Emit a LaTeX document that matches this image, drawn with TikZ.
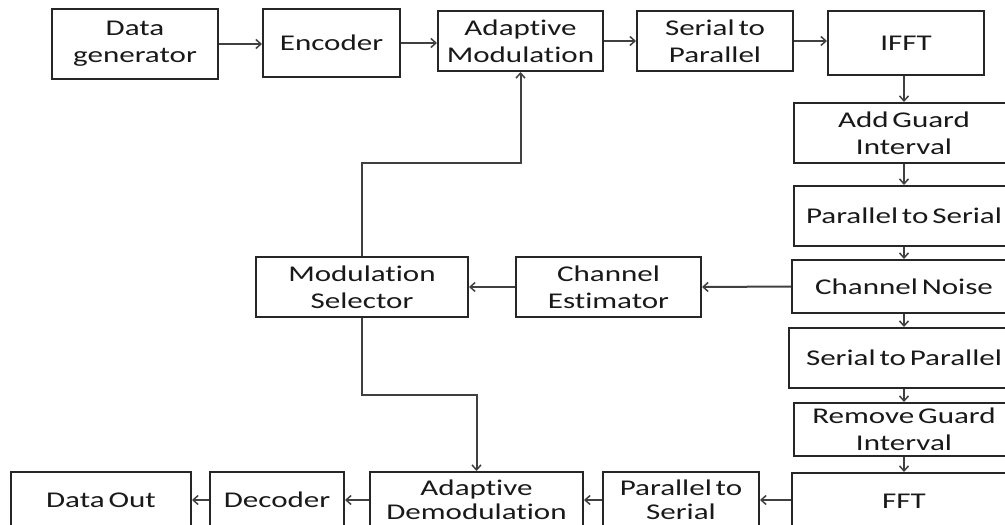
\documentclass[tikz,border=0pt]{standalone}
\usepackage{fontspec}
\setmainfont{Carlito}[FakeStretch=1.38,WordSpace=0.55,Ligatures=NoCommon]
\usetikzlibrary{arrows.meta}
\tikzset{
  blk/.style={draw=black!85, line width=2pt, fill=white, inner sep=0pt,
    align=center, text=black!90, font=\fontsize{22.5}{27}\selectfont},
  lowblk/.style={blk, minimum height=56pt, font=\fontsize{22.5}{24.5}\selectfont},
  flow/.style={draw=black!75, line width=2pt, -{Straight Barb[length=5pt,width=9pt,line width=1.5pt]}},
}
\begin{document}
\begin{tikzpicture}[x=1pt,y=-1pt]
\useasboundingbox (0,0) rectangle (1005,525);
\clip (0,0) rectangle (1005,525);
% transmitter chain, top row
\node[blk, minimum width=166pt, minimum height=70pt] (dg) at (135,44) {Data\\generator};
\node[blk, minimum width=137pt, minimum height=68pt] (enc) at (331.5,43) {Encoder};
\node[blk, minimum width=165pt, minimum height=60pt] (am) at (520.5,41) {Adaptive\\Modulation};
\node[blk, minimum width=156pt, minimum height=60pt] (sp) at (715,41) {Serial to\\Parallel};
\node[blk, minimum width=156pt, minimum height=64pt] (ifft) at (906,43) {IFFT};
% right column
\node[blk, minimum width=220pt, minimum height=60pt] (agi) at (904,133) {Add Guard\\Interval};
\node[blk, minimum width=220pt, minimum height=60pt] (ps) at (904,216) {Parallel to Serial};
\node[blk, minimum width=224pt, minimum height=53pt] (cn) at (904,286.5) {Channel Noise};
\node[blk, minimum width=230pt, minimum height=60pt] (sp2) at (904,358) {Serial to Parallel};
\node[blk, minimum width=220pt, minimum height=53pt] (rgi) at (904,429.5) {Remove Guard\\Interval};
\node[lowblk, minimum width=224pt] (fft) at (904,501) {FFT};
% feedback blocks
\node[blk, minimum width=185pt, minimum height=60pt] (ce) at (608.5,287) {Channel\\Estimator};
\node[blk, minimum width=212pt, minimum height=60pt] (ms) at (362,287) {Modulation\\Selector};
% receiver chain, bottom row
\node[lowblk, minimum width=156pt] (ps2) at (681,500) {Parallel to\\Serial};
\node[lowblk, minimum width=213pt] (ad) at (476.5,500) {Adaptive\\Demodulation};
\node[lowblk, minimum width=134pt] (dec) at (277,500) {Decoder};
\node[lowblk, minimum width=180pt] (do) at (101,500) {Data Out};
% top row connectors
\draw[flow] (dg.east) -- (enc.west |- dg.east);
\draw[flow] (enc.east) -- (am.west |- enc.east);
\draw[flow] (am.east) -- (sp.west |- am.east);
\draw[flow] (sp.east) -- (ifft.west |- sp.east);
% right column connectors
\draw[flow] (agi.north |- ifft.south) -- (agi.north);
\draw[flow] (agi.south) -- (ps.north);
\draw[flow] (ps.south) -- (cn.north);
\draw[flow] (cn.south) -- (sp2.north);
\draw[flow] (sp2.south) -- (rgi.north);
\draw[flow] (rgi.south) -- (fft.north);
% channel estimation and feedback
\draw[flow] (cn.west) -- (ce.east);
\draw[flow] (ce.west) -- (ms.east);
\coordinate (up) at (362,163);
\coordinate (dn) at (362,395);
\draw[flow] (ms.north) -- (up) -| (am.south);
\draw[flow] (ms.south) -- (dn) -| (ad.north);
% bottom row connectors
\draw[flow] (fft.west |- ps2.east) -- (ps2.east);
\draw[flow] (ps2.west) -- (ad.east);
\draw[flow] (ad.west) -- (dec.east);
\draw[flow] (dec.west) -- (do.east);
\end{tikzpicture}
\end{document}
